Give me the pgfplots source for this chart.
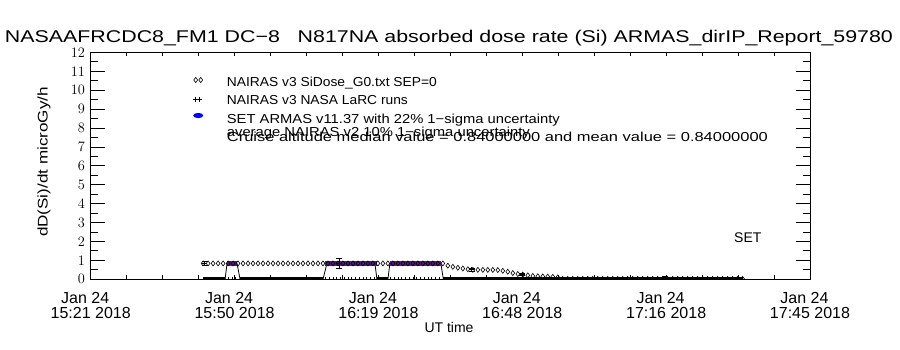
\documentclass[border=0pt]{standalone}
\usepackage{fontspec}
\setmainfont{Liberation Sans}
\usepackage{graphicx}
\usepackage{pgfplots}
\pgfplotsset{compat=1.18}
\definecolor{armas}{RGB}{85,25,130}
\begin{document}
\begin{tikzpicture}[x=1pt,y=1pt]
\useasboundingbox (0,0) rectangle (900,350);
% main axis: data, y ticks
\begin{axis}[
  at={(90.7pt,70.7pt)}, anchor=south west,
  scale only axis, width=719.3pt, height=226.8pt,
  xmin=0, xmax=144, ymin=0, ymax=12,
  axis line style={line width=0.9pt},
  xtick=\empty,
  ytick={0,1,...,12}, minor y tick num=1,
  major tick length=14pt, minor tick length=7.5pt,
  tick style={line width=0.9pt, black},
  yticklabel style={font=\fontsize{15}{15}\selectfont, inner sep=0pt, xshift=-5.5pt},
  clip marker paths=true,
  legend style={draw=none, fill=none, inner sep=0pt,
    at={(axis cs:20.28,10.78)}, anchor=north west,
    row sep=5pt,
    nodes={inner sep=0pt, text height=10.5pt, text depth=3pt, font=\fontsize{13}{14}\selectfont},
    /tikz/every odd column/.append style={column sep=22.7pt}},
  legend cell align=left,
]
% legend images
\addlegendimage{legend image code/.code={
  \path[draw=none, fill=none] (0pt,-3pt) rectangle (12pt,3pt);
  \draw[black, line width=0.6pt] plot[only marks, mark=diamond, mark size=2.6pt] coordinates {(3.5pt,2.5pt) (8.5pt,2.5pt)};}}
\addlegendentry{\resizebox{210pt}{\height}{NAIRAS v3 SiDose\_G0.txt SEP=0}}
\addlegendimage{legend image code/.code={
  \path[draw=none, fill=none] (0pt,-3pt) rectangle (12pt,3pt);
  \draw[black, line width=0.7pt] plot[only marks, mark=+, mark size=2.6pt] coordinates {(3.5pt,1.5pt) (7.5pt,1.5pt)};}}
\addlegendentry{\resizebox{181pt}{\height}{NAIRAS v3 NASA LaRC runs}}
\addlegendimage{legend image code/.code={
  \path[draw=none, fill=none] (0pt,-3pt) rectangle (12pt,3pt);
  \fill[blue, draw=none] (6pt,4pt) ellipse [x radius=5pt, y radius=2.6pt];}}
\addlegendentry{\resizebox{333pt}{\height}{SET ARMAS v11.37 with 22\% 1−sigma uncertainty}}

% trapezoid sides
\addplot[black, line width=0.8pt, forget plot] coordinates {(26.9,0) (27.3,0.84)};
\addplot[black, line width=0.8pt, forget plot] coordinates {(29.3,0.84) (29.9,0)};
\addplot[black, line width=0.8pt, forget plot] coordinates {(46.5,0) (47.3,0.84)};
\addplot[black, line width=0.8pt, forget plot] coordinates {(56.9,0.84) (57.3,0)};
\addplot[black, line width=0.8pt, forget plot] coordinates {(59.5,0) (59.9,0.84)};
\addplot[black, line width=0.8pt, forget plot] coordinates {(70.1,0.84) (70.6,0)};
% small ticks along the baseline inside trapezoids
\addplot[ycomb, black, line width=0.6pt, forget plot] coordinates {
(27.5,0.14) (28.25,0.14) (29.0,0.14)
(47.0,0.14) (47.75,0.14) (48.5,0.14) (49.25,0.14) (50.0,0.14) (50.75,0.14) (51.5,0.14)
(52.25,0.14) (53.0,0.14) (53.75,0.14) (54.5,0.14) (55.25,0.14) (56.0,0.14) (56.75,0.14)
(60.0,0.14) (60.75,0.14) (61.5,0.14) (62.25,0.14) (63.0,0.14) (63.75,0.14) (64.5,0.14)
(65.25,0.14) (66.0,0.14) (66.75,0.14) (67.5,0.14) (68.25,0.14) (69.0,0.14) (69.75,0.14)};
% SET ARMAS segments
\addplot[armas, line width=5.7pt, forget plot] coordinates {(27.3,0.84) (29.3,0.84)};
\addplot[armas, line width=5.7pt, forget plot] coordinates {(46.9,0.84) (57.3,0.84)};
\addplot[armas, line width=5.7pt, forget plot] coordinates {(59.9,0.84) (70.1,0.84)};
% NAIRAS v3 SiDose
\addplot[only marks, mark=diamond, mark size=2.5pt, mark options={line width=0.6pt, black}, forget plot] coordinates {
(22.5,0.84) (23.5,0.84) (24.5,0.84) (25.5,0.84) (26.5,0.84) (27.5,0.84) (28.5,0.84) (29.5,0.84)
(30.5,0.84) (31.5,0.84) (32.5,0.84) (33.5,0.84) (34.5,0.84) (35.5,0.84) (36.5,0.84) (37.5,0.84)
(38.5,0.84) (39.5,0.84) (40.5,0.84) (41.5,0.84) (42.5,0.84) (43.5,0.84) (44.5,0.84) (45.5,0.84)
(46.5,0.84) (47.5,0.84) (48.5,0.84) (49.5,0.84) (50.5,0.84) (51.5,0.84) (52.5,0.84) (53.5,0.84)
(54.5,0.84) (55.5,0.84) (56.5,0.84) (57.5,0.84) (58.5,0.84) (59.5,0.84) (60.5,0.84) (61.5,0.84)
(62.5,0.84) (63.5,0.84) (64.5,0.84) (65.5,0.84) (66.5,0.84) (67.5,0.84) (68.5,0.84) (69.5,0.84)
(70.5,0.84) (71.5,0.72) (72.5,0.66) (73.5,0.61) (74.5,0.57) (75.5,0.53) (76.5,0.50) (77.5,0.50)
(78.5,0.50) (79.5,0.50) (80.5,0.50) (81.5,0.49) (82.5,0.45) (83.5,0.40) (84.5,0.33) (85.5,0.28)
(86.5,0.25) (87.5,0.21) (88.5,0.18) (89.5,0.16) (90.5,0.15) (91.5,0.14) (92.5,0.13) (93.5,0.10)
(94.5,0.02) (95.5,0.02) (96.5,0.02) (97.5,0.02) (98.5,0.02) (99.5,0.02) (100.5,0.02) (101.5,0.02)
(102.5,0.02) (103.5,0.02) (104.5,0.02) (105.5,0.02) (106.5,0.02) (107.5,0.02) (108.5,0.02) (109.5,0.02)
(110.5,0.02) (111.5,0.02) (112.5,0.02) (113.5,0.02) (114.5,0.02) (115.5,0.02) (116.5,0.02) (117.5,0.02)
(118.5,0.02) (119.5,0.02) (120.5,0.02) (121.5,0.02) (122.5,0.02) (123.5,0.02) (124.5,0.02) (125.5,0.02)
(126.5,0.02) (127.5,0.02) (128.5,0.02) (129.5,0.02) (130.5,0.02)};
% NAIRAS v3 NASA LaRC runs
\addplot[only marks, mark=+, mark size=2.6pt, mark options={line width=0.8pt, black}, forget plot,
  error bars/.cd, y dir=both, y explicit,
  error bar style={line width=0.8pt, black},
  error mark options={rotate=90, mark size=3pt, line width=0.8pt}] coordinates {
(22.8,0.84) +- (0,0.10)
(49.7,0.84) +- (0,0.25)
(76.3,0.50) +- (0,0.06)
(86.4,0.25) +- (0,0.05)
(115.0,0.05) +- (0,0.12)};
% baseline (zero-value points)
\addplot[black, line width=5pt, forget plot] coordinates {(22.5,0) (26.9,0)};
\addplot[black, line width=5pt, forget plot] coordinates {(29.9,0) (46.5,0)};
\addplot[black, line width=5pt, forget plot] coordinates {(57.3,0) (59.5,0)};
\addplot[black, line width=5pt, forget plot] coordinates {(70.6,0) (130.6,0)};
\end{axis}
% x ticks and labels
\begin{axis}[
  at={(90.7pt,70.7pt)}, anchor=south west,
  scale only axis, width=719.3pt, height=226.8pt,
  xmin=0, xmax=144, ymin=0, ymax=12,
  axis line style={line width=0.9pt},
  ytick=\empty,
  xtick={0,28.8,57.6,86.4,115.2,144},
  minor xtick={7.2,14.4,21.6,36,43.2,50.4,64.8,72,79.2,93.6,100.8,108,122.4,129.6,136.8},
  major tick length=4pt, minor tick length=4pt,
  tick style={line width=0.9pt, black},
  xticklabels={
    {Jan 24\rule{11pt}{0pt}\\15:21 2018},
    {Jan 24\rule{11pt}{0pt}\\15:50 2018},
    {Jan 24\rule{11pt}{0pt}\\16:19 2018},
    {Jan 24\rule{11pt}{0pt}\\16:48 2018},
    {Jan 24\rule{11pt}{0pt}\\17:16 2018},
    {Jan 24\rule{11pt}{0pt}\\17:45 2018}},
  xticklabel style={align=center, font=\fontsize{16}{14.7}\selectfont, inner sep=0pt, anchor=north, yshift=-12.7pt},
]
\end{axis}
% texts
\node[anchor=base, inner sep=0pt, font=\fontsize{17}{17}\selectfont] at (449,307)
  {\resizebox{888pt}{\height}{NASAAFRCDC8\_FM1 DC−8\ \ \ N817NA absorbed dose rate (Si) ARMAS\_dirIP\_Report\_59780}};
\node[anchor=base west, inner sep=0pt, font=\fontsize{13}{13}\selectfont] at (226.7,213)
  {\resizebox{303pt}{\height}{average NAIRAS v2 10\% 1−sigma uncertainty}};
\node[anchor=base west, inner sep=0pt, font=\fontsize{13}{13}\selectfont] at (226.7,208)
  {\resizebox{541pt}{\height}{Cruise altitude median value = 0.84000000 and mean value = 0.84000000}};
\node[anchor=base west, inner sep=0pt, font=\fontsize{14}{14}\selectfont] at (734,107) {SET};
\node[anchor=base, inner sep=0pt, font=\fontsize{14}{14}\selectfont] at (449,17) {UT time};
\node[rotate=90, inner sep=0pt, font=\fontsize{14}{14}\selectfont] at (44,188)
  {\resizebox{150pt}{\height}{dD(Si)/dt microGy/h}};
\end{tikzpicture}
\end{document}
